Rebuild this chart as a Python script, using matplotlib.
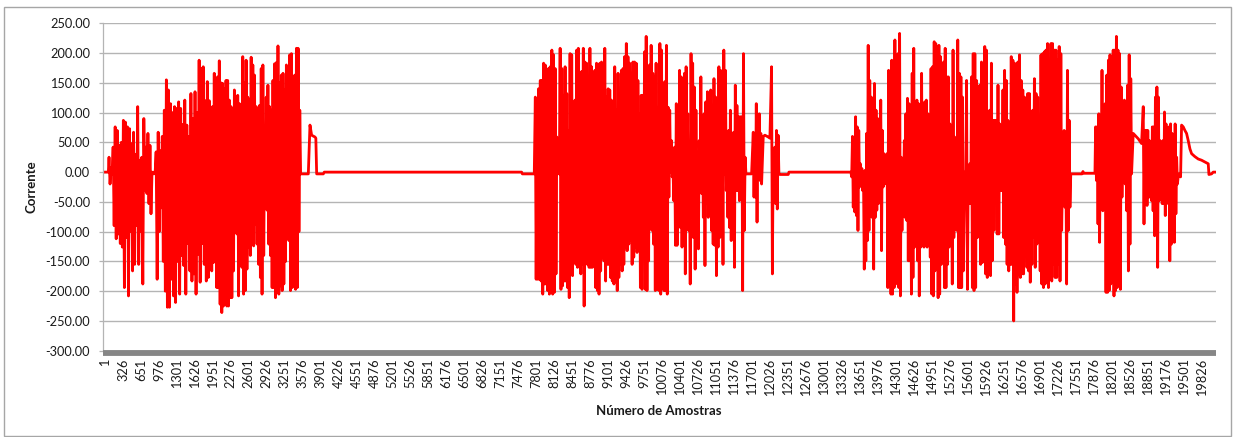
import numpy as np
import matplotlib.pyplot as plt
from matplotlib.patches import Rectangle

plt.rcParams['font.family'] = ['Lato', 'DejaVu Sans']

# quiet stretches, read as (sample, value)
lead_x = [1, 62]
lead_y = [0, 0]

# bursts: alternating peak / trough values read left to right
burst1a = [25, -20, 8, -3, 42, -90, 76, -112, 70, -104, 45, -120, 50, -126, 87, -194,
           84, -110, 76, -208, 73, -100, 48, -166, 67, -155, 30, -90, 110, -155, 20, -100,
           25, -188, 90, -30, 42, -36, 65, -53, 45, -70, 0, -3, 0, -3, 34, -180,
           67, -100, 36, -60, 60, -150, 104, -200, 155, -227, 138, -227, 115, -180, 100, -208,
           110, -219, 107, -150, 118, -205, 107, -140, 80, -157, 121, -205, 79, -120, 60, -166,
           132, -183, 90, -171, 135, -205, 100, -138, 188, -185, 174, -120, 177, -155, 120, -183,
           152, -177]
burst1b = [120, -155, 98, -166, 110, -152, 166, -140, 154, -194, 160, -194, 187, -222, 150, -236,
           149, -225, 140, -222, 154, -225, 154, -225, 121, -211, 110, -211, 107, -166, 138, -101,
           120, -104, 129, -208, 115, -150, 100, -160, 194, -205, 150, -199, 188, -163, 126, -126,
           121, -140, 193, -104, 180, -124, 163, -87, 110, -121, 107, -155, 112, -177, 174, -205,
           180, -140, 42, -28, 126, -64, 146, -121, 110, -140, 104, -194, 154, -194, 182, -211,
           184, -150, 212, -205, 150, -191, 163, -199, 166, -188, 138, -150, 180, 5, 60, -115,
           197, -199, 199, -194, 160, -120, 163, -197, 208, -194, 208, -100, 104, -3]
tail1_x = [3560, 3676, 3706, 3736, 3796, 3812, 3827, 3947, 3965, 7531, 7545, 7760]
tail1_y = [-3, -3, 79, 62, 59, 57, -3, -3, 0, 0, -3, -3]

burst2a = [126, -180, 70, -180, 140, -180, 154, -183, 154, -205, 183, -188, 180, -188, 171, -199,
           174, -205, 177, -188, 205, -205, 197, -202, 174, -171, 59, -3, 0, -3, 208, -197,
           174, -191, 129, -183, 177, -183, 132, -194, 70, -211, 199, -166, 197, -174, 59, -149,
           121, -155, 205, -160, 208, -155, 121, -171, 169, -155, 208, -225, 185, -98, 183, -155,
           132, -160, 208, -160, 177, -160, 166, -149, 171, -194, 183, -199, 171, -205, 183, -166,
           185, -143, 171, -149, 208, -183, 126, -155, 140, -155, 138, -177, 121, -183, 98, -188,
           177, -183, 104, -199, 166, -177, 132, -155, 171, -166, 174, -155, 194, -126, 216, -132,
           194, -121, 183, -115, 166, -155, 185, -143, 185, -126, 183, -135, 154, -98, 98, -194,
           129, -197, 129, -87, 202, -197, 228, -199, 138, -149, 180, -76, 213, -98, 166, -121,
           160, -199, 183, -197]
burst2b = [109, -199, 216, -205, 205, -132, 146, -199, 152, -199, 213, -205, 109, -42, 104, 0,
           53, -8, 3, -48, 42, -123, 115, -123, 93, -76, 171, -93, 160, -126, 98, -64,
           166, -171, 177, -59, 98, -98, 14, -188, 199, -76, 183, -110, 143, -163, 104, -93,
           25, -129, 53, -20, 160, -36, 53, -76, 98, -157, 118, -53, 135, -76, 121, -25,
           138, -98, 81, -121, 157, -123, 126, -174, 70, -126, 177, -110, 171, -81, 70, -155,
           205, -3, 171, -31, 36, -76, 70, -93, 104, -115, 14, -8, 67, -160, 146, -31,
           112, -31, 93, -48, 93, -8, 93, -199, 199, -98, 25, -3]
mid2_x = [11600, 11688]
mid2_y = [-3, -3]
burst2c = [67, -42, 48, -42, 115, -84, 87, -3, 98, -14, 65, -20]
decay2_x = [11899, 11929, 11989, 12019]
decay2_y = [60, 62, 59, 57]
burst2d = [177, -171, 30, -31, 42, -53, 70, -62, 62, -3]
tail2_x = [12200, 12351, 12363, 13470]
tail2_y = [-4, -4, 0, 0]

burst3a = [0, -8, 60, -59, 56, -67, 93, -73, 76, -98, 70, -25, 14, -8, 6, -31,
           -3, -163, 3, -149, 65, -115, 213, -98, 154, -31, 126, -76, 115, -163, 149, -76,
           104, -64, 90, -53, 65, -31, 121, -132, 70, -25, 31, -20, 25, -8, 31, -194,
           171, -188, 14, -205, 188, -205, 183, -194, 222, -188, 183, -177, 199, -194, 233, -208,
           25, -98, 14, -20, 53, -76, 98, -81, 124, -149, 115, -149, 70, -205, 166, -177,
           208, -126, 87, -20, 121, -149, 115, -208, 112, -126, 166, -110, 110, -126, 118, -65,
           121, -126, 98, -98, 53, -143, 174, -205, 177, -208, 219, -166, 216, -31, 166, -211,
           213, -205, 194, -155, 149, -98, 185, -194, 208, -194, 160, -155, 160, -126, 81, -3,
           14, -188, 205, -110, 59, -20, 14, -98, 222, -194, 166, -194, 160, -194, 126, -166]
burst3b = [0, -3, 154, -197, -8, -53, 14, -53, 160, -194, 199, -199, 199, -194, 154, -110,
           118, -70, 146, -155, 185, -152, 154, -93, 211, -171, 205, -177, 87, -155, 104, -174,
           183, -149, 87, -98, 87, -8, 87, -104, 146, -104, 81, -31, 76, -31, 138, -110,
           171, -121, 154, -155, 87, -166, 48, -155, 194, -155, 188, -250, 183, -188, 169, -202,
           185, -171, 197, -177, 154, -171, 138, -171, 126, -110, 110, -160, 132, -166, 132, -185,
           93, -155, 104, -110, 157, -160, 132, -121, 126, -76, 70, -166, 197, -188, 199, -194,
           202, -188, 205, -155, 216, -194, 166, -166, 216, -183, 216, -155, 205, -177, 205, -177,
           188, -155, 211, -183, 199, -98, -8, -31, 70, -59, 25, -188, 171, -98, 87, -59, -3, -3]
tail3_x = [17490, 17660, 17677, 17694, 17894]
tail3_y = [-3, -3, 1, -2, -2]

burst4a = [76, -14, 76, -87, 98, -118, 70, -59, 171, -65, 70, -53, 115, -202, 163, -202,
           188, -199, 197, -188, 53, -76, 205, -208, 205, -199, 228, -194, 205, -81, 199, -197,
           143, -42, 70, -14, 121, -20, 76, -65, 146, -166, 197, -121, 157, -3]
decay4_x = [18586, 18617, 18677, 18737]
decay4_y = [65, 62, 56, 48]
burst4b = [110, -87, 70, -8, 70, -56, 70, -42, 53, -42, 51, -48, 76, -65, 76, -107,
           126, -31, 143, -160, 126, -48, 53, -25, 42, -53, 53, -53, 101, -73, 81, -48,
           53, -53, 76, -149, 81, -121, 65, -65, 53, -118, 81, -70, 25, -20, -8, -3]
tail4_x = [19442, 19460, 19490, 19520, 19550, 19580, 19611, 19641, 19701, 19761, 19821,
           19882, 19942, 19954, 20002, 20032, 20075]
tail4_y = [-8, 79, 76, 70, 65, 53, 39, 31, 26, 22, 20, 17, 14, -4, -3, 0, 0]

tick_samples = list(range(1, 20000, 325))


def spread(vals, first, last):
    # place the read values evenly between the first and last sample of the burst
    return list(np.linspace(first, last, len(vals))), vals


pieces = [
    (lead_x, lead_y),
    spread(burst1a, 74, 1869),
    spread(burst1b, 1885, 3537),
    (tail1_x, tail1_y),
    spread(burst2a, 7779, 9977),
    spread(burst2b, 10001, 11586),
    (mid2_x, mid2_y),
    spread(burst2c, 11718, 11869),
    (decay2_x, decay2_y),
    spread(burst2d, 12049, 12182),
    (tail2_x, tail2_y),
    spread(burst3a, 13483, 15514),
    spread(burst3b, 15544, 17472),
    (tail3_x, tail3_y),
    spread(burst4a, 17906, 18556),
    (decay4_x, decay4_y),
    spread(burst4b, 18767, 19412),
    (tail4_x, tail4_y),
]
x = np.concatenate([np.asarray(p[0], float) for p in pieces])
y = np.concatenate([np.asarray(p[1], float) for p in pieces])

fig = plt.figure(figsize=(12.35, 4.37), dpi=100)
ax = fig.add_axes([0.0838, 0.1975, 0.9005, 0.7492])

ax.plot(x, y, color='#ff0000', lw=2.0)

ax.set_xlim(-26, 20075)
ax.set_ylim(-300, 250)
ax.set_yticks(np.arange(-300, 251, 50))
ax.set_yticklabels(['%.2f' % v for v in np.arange(-300, 251, 50)])
ax.set_xticks(tick_samples)
ax.set_xticklabels([str(t) for t in tick_samples])

ax.yaxis.grid(True, color='#b4b4b4', lw=1.0)
ax.set_axisbelow(True)
for s in ['top', 'right']:
    ax.spines[s].set_visible(False)
ax.spines['left'].set_color('#b4b4b4')
ax.spines['left'].set_linewidth(0.9)
ax.spines['bottom'].set_color('#868686')
ax.spines['bottom'].set_linewidth(4.2)
ax.spines['bottom'].set_capstyle('butt')
ax.spines['bottom'].set_position(('outward', 2.0))

ax.tick_params(axis='y', direction='out', length=3, width=0.9, color='#b4b4b4',
               pad=6.8, labelsize=9.2, labelcolor='#1a1a1a')
ax.tick_params(axis='x', length=0, pad=3.5, labelsize=9.2, labelcolor='#1a1a1a',
               labelrotation=90)

fig.text(32 / 1235, 1 - 187 / 437, 'Corrente', rotation=90, ha='center', va='center',
         fontsize=9.5, fontweight='bold', color='#1a1a1a')
fig.text(659 / 1235, 1 - 411 / 437, 'Número de Amostras', ha='center', va='center',
         fontsize=9.5, fontweight='bold', color='#1a1a1a')

fig.patches.append(Rectangle((4 / 1235, 1.5 / 437), 1227 / 1235, 429 / 437,
                             transform=fig.transFigure, fill=False,
                             edgecolor='#a6a6a6', lw=1.0))

fig.savefig('out.png', dpi=100)
